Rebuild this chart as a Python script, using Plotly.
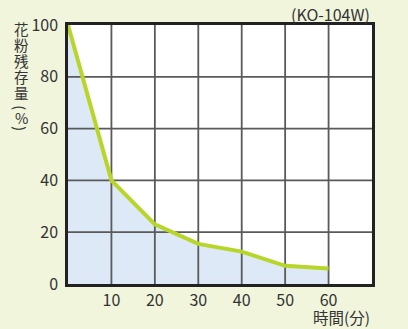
import plotly.graph_objects as go

time_min = [0, 10, 20, 30, 40, 50, 60]
pollen_pct = [100, 40, 23, 15.5, 12.5, 7, 6]
x_ticks = [10, 20, 30, 40, 50, 60]
y_ticks = [0, 20, 40, 60, 80, 100]
y_title_chars = ["花", "粉", "残", "存", "量", "(", "%", ")"]
y_title_rot = [0, 0, 0, 0, 0, 90, 0, 90]
model_label = "(KO-104W)"
x_title = "時間(分)"

X_MAX = 70
Y_MAX = 100
FONT = "Noto Sans CJK JP"

fig = go.Figure()

# area fill
fig.add_trace(go.Scatter(x=time_min, y=pollen_pct, mode="lines", line=dict(width=0),
                         fill="tozeroy", fillcolor="#dde9f6", hoverinfo="skip", showlegend=False))

# grid lines drawn above fill
for xv in x_ticks:
    fig.add_trace(go.Scatter(x=[xv, xv], y=[0, Y_MAX], mode="lines",
                             line=dict(color="#5a5a5a", width=1.8), hoverinfo="skip", showlegend=False))
for yv in y_ticks[1:-1]:
    fig.add_trace(go.Scatter(x=[0, X_MAX], y=[yv, yv], mode="lines",
                             line=dict(color="#5a5a5a", width=1.8), hoverinfo="skip", showlegend=False))

# main line
fig.add_trace(go.Scatter(x=time_min, y=pollen_pct, mode="lines",
                         line=dict(color="#b8d62a", width=4), showlegend=False))

annotations = []
char_y = [27, 43, 59, 75, 91, 106, 116, 127]
for ch, py, rot in zip(y_title_chars, char_y, y_title_rot):
    annotations.append(dict(text=ch, xref="paper", yref="paper",
                            x=(21 - 68) / 304, y=(284 - py) / 261, textangle=rot,
                            xanchor="center", yanchor="middle", showarrow=False,
                            font=dict(family=FONT, size=14.5, color="#333")))
annotations.append(dict(text=model_label, xref="paper", yref="paper",
                        x=1.0, y=(284 - 12) / 261, xanchor="right", yanchor="middle",
                        showarrow=False, font=dict(family=FONT, size=16, color="#333")))
annotations.append(dict(text=x_title, xref="paper", yref="paper",
                        x=1.0, y=(284 - 317) / 261, xanchor="right", yanchor="middle",
                        showarrow=False, font=dict(family=FONT, size=15.5, color="#333")))

fig.update_layout(
    width=408, height=329,
    margin=dict(l=68, r=36, t=23, b=45),
    paper_bgcolor="#f0f5dc",
    plot_bgcolor="#ffffff",
    annotations=annotations,
    xaxis=dict(range=[0, X_MAX], tickvals=x_ticks, showgrid=False, zeroline=False,
               showline=True, linecolor="#222", linewidth=2.5, mirror=True,
               ticks="", tickfont=dict(family=FONT, size=16, color="#333")),
    yaxis=dict(range=[0, Y_MAX], tickvals=y_ticks, showgrid=False, zeroline=False,
               showline=True, linecolor="#222", linewidth=2.5, mirror=True,
               ticks="", ticklabelstandoff=4, tickfont=dict(family=FONT, size=16, color="#333")),
)

fig.write_html("out.html", config={"displayModeBar": False},
               post_script="document.body.style.margin='0';")
